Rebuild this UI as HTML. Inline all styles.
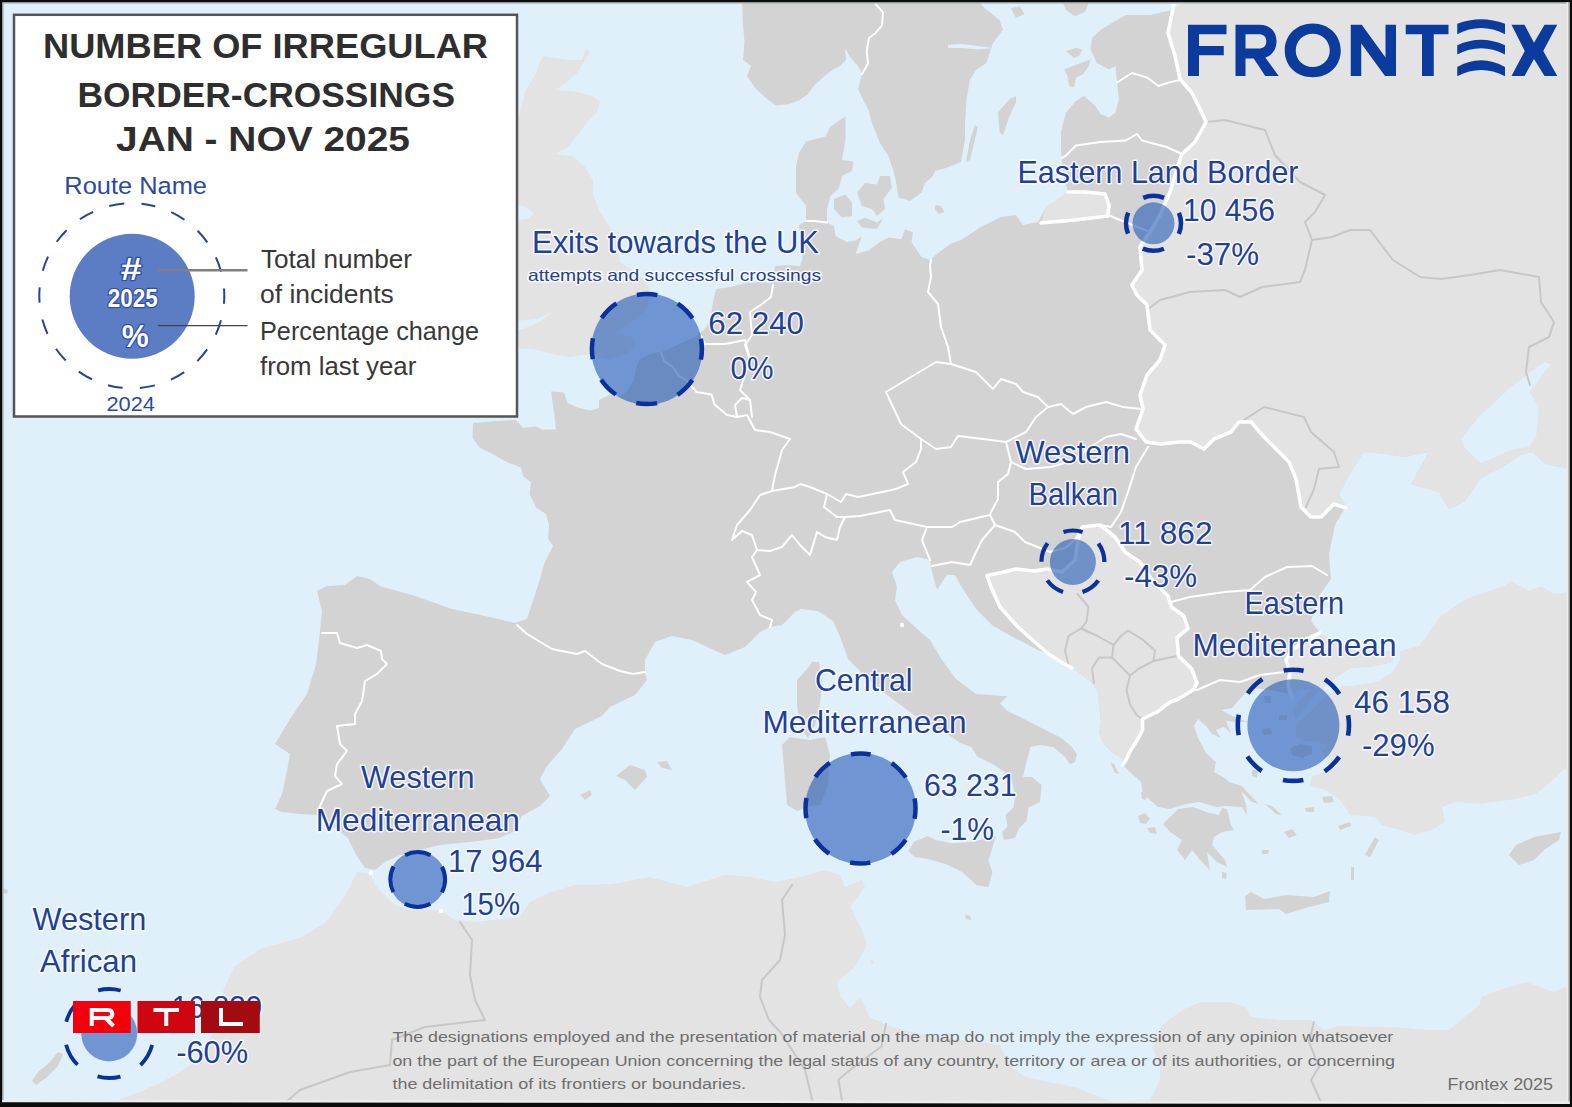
<!DOCTYPE html>
<html><head><meta charset="utf-8"><title>Frontex map</title>
<style>html,body{margin:0;padding:0;background:#e0f0fb;}body{width:1572px;height:1107px;position:relative;overflow:hidden;font-family:"Liberation Sans",sans-serif;}</style>
</head><body>
<svg width="1572" height="1107" viewBox="0 0 1572 1107" style="position:absolute;left:0;top:0"><defs><clipPath id="land"><path d="M275,809 L282,794 L287,771 L290,754 L275,744 L290,719 L307,694 L316,664 L320,631 L322,611 L317,591 L327,586 L345,585 L357,576 L370,579 L380,586 L415,596 L452,609 L485,616 L515,623 L527,619 L540,579 L544.5,563 L553,546 L548,538.5 L549,525.5 L546,514 L536,507.5 L529.5,494 L531,482.5 L523,476 L521,467.5 L504.5,461 L491,453 L480,448 L472.5,438 L473,423 L491,421.5 L516,420 L523,428 L536,426.5 L542.5,429.5 L556,429.5 L554,413 L551,391.5 L564,392.5 L567.5,403 L577.5,407.5 L590.5,410.5 L599,408 L599,400 L609,395 L620.5,396 L627.5,390.5 L634.5,379 L636,368 L640,359.5 L650,354 L664,351 L685,341.5 L696.5,336 L706,328 L711,315 L713,302 L716,289 L731,287 L745,283 L760,282 L773,283 L775,266 L787,265 L800,266 L802.5,258.5 L800,240 L799,225 L806,221 L806,206 L796,193 L796,166 L799,153 L806,141.5 L825.5,136.5 L830.5,126.5 L845.5,116.5 L845.5,140 L842,160 L853.5,161.5 L852,171 L842,176 L839,188 L830.5,196 L827,209 L827,222.5 L834,226 L835.5,236 L847,242 L855.5,240.5 L862,236 L855.5,254 L868.5,250.5 L880,242 L888.5,237.5 L901.5,239 L905,229 L913,232.5 L911.5,242 L918,252 L921.5,257 L928,259 L930,260.5 L935,255.5 L950,244 L961,240 L981,227 L1001,217 L1016,215 L1023,225 L1038,222 L1046,207 L1061,197 L1068,192 L1063,175 L1061,149 L1061,132 L1066,112.5 L1076,101 L1084,96 L1095.5,106 L1100.5,114 L1109,117.5 L1115.5,112.5 L1119,99 L1117,82.5 L1115.5,66 L1109,69.5 L1097,63 L1090.5,49.5 L1092,38 L1100.5,30 L1112,23 L1125.5,15 L1150,15 L1172,10 L1180,5 L1190,0 L1572,0 L1572,469 L1545,464 L1533,452 L1520,455 L1504,466 L1481,478 L1464,502 L1449,509 L1439,492 L1411,484 L1429,452 L1404,457 L1386,454 L1364,452 L1354,467 L1339,494 L1346,506 L1335,525 L1329,554 L1331,579 L1319,596 L1311,621 L1321,634 L1339,644 L1364,654 L1396,651 L1392,662 L1375,666 L1350,668 L1338,676 L1320,690 L1305,706 L1296,719 L1294,712 L1300,700 L1312,689 L1300,690 L1291,695 L1280,692 L1270,690 L1250,688 L1239,700 L1232,708 L1221,710 L1232,716 L1248,722 L1236,722 L1226,721 L1231,733 L1224,727 L1216,730 L1221,738 L1212,734 L1206,726 L1198,719 L1194,726 L1198,738 L1206,753 L1216,762 L1214,772 L1226,779 L1232,786 L1241,791 L1246,804 L1247,815 L1242,807 L1226,806 L1216,807 L1199,802 L1186,804 L1170,809 L1158,807 L1143,794 L1141,782 L1131,773 L1122.5,765 L1122.5,758.5 L1113.5,753.5 L1104.5,744.5 L1099,733.5 L1101,722.5 L1099,704.5 L1097.5,690 L1092,683 L1081,674 L1070.5,666.5 L1061,661 L1036,649 L1011,636 L993,626 L976,609 L961,586 L955,575 L947,575 L937,590 L932,572 L930,560 L917,557 L900,562 L892,572 L897,587 L895,600 L902,615 L915,627 L930,640 L942,660 L956,679 L976,694 L1003,696 L1007.5,696 L1000,703.5 L1007.5,711 L1023,718.5 L1041.5,728 L1060.5,737.5 L1072,747 L1077,754.5 L1075,762 L1070,764 L1064.5,756.5 L1053,747 L1040,745 L1030.5,747 L1026.5,762 L1023,777 L1032,777 L1041.5,785 L1040,802 L1028.5,807.5 L1026.5,821 L1019,828.5 L1015,838 L1004,840 L1002,832 L1007.5,826.5 L1005.5,815 L1013.5,807.5 L1015,796 L1011.5,779 L1004,771.5 L992.5,764 L977,756.5 L971.5,747 L960,743 L947,733.5 L926,724 L906,709 L886,694 L863,674 L848,659 L841,639 L833,621 L818,611 L801,609 L795,612 L782,625 L770,627 L760,632 L745,647 L725,655 L707,647 L692,640 L672,636 L655,642 L645,660 L645,672 L647,680 L635,695 L610,707 L602,716 L575,729 L562,749 L547,766 L540,779 L550,796 L540,806 L522,816 L515,831 L500,838 L470,842 L440,845 L420,850 L400,855 L385,862 L375,870 L365,868 L355,853 L348,838 L335,828 L320,815 L300,814 L282,812Z"/></clipPath></defs><rect width="1572" height="1107" fill="#e0f0fb"/><path d="M275,809 L282,794 L287,771 L290,754 L275,744 L290,719 L307,694 L316,664 L320,631 L322,611 L317,591 L327,586 L345,585 L357,576 L370,579 L380,586 L415,596 L452,609 L485,616 L515,623 L527,619 L540,579 L544.5,563 L553,546 L548,538.5 L549,525.5 L546,514 L536,507.5 L529.5,494 L531,482.5 L523,476 L521,467.5 L504.5,461 L491,453 L480,448 L472.5,438 L473,423 L491,421.5 L516,420 L523,428 L536,426.5 L542.5,429.5 L556,429.5 L554,413 L551,391.5 L564,392.5 L567.5,403 L577.5,407.5 L590.5,410.5 L599,408 L599,400 L609,395 L620.5,396 L627.5,390.5 L634.5,379 L636,368 L640,359.5 L650,354 L664,351 L685,341.5 L696.5,336 L706,328 L711,315 L713,302 L716,289 L731,287 L745,283 L760,282 L773,283 L775,266 L787,265 L800,266 L802.5,258.5 L800,240 L799,225 L806,221 L806,206 L796,193 L796,166 L799,153 L806,141.5 L825.5,136.5 L830.5,126.5 L845.5,116.5 L845.5,140 L842,160 L853.5,161.5 L852,171 L842,176 L839,188 L830.5,196 L827,209 L827,222.5 L834,226 L835.5,236 L847,242 L855.5,240.5 L862,236 L855.5,254 L868.5,250.5 L880,242 L888.5,237.5 L901.5,239 L905,229 L913,232.5 L911.5,242 L918,252 L921.5,257 L928,259 L930,260.5 L935,255.5 L950,244 L961,240 L981,227 L1001,217 L1016,215 L1023,225 L1038,222 L1046,207 L1061,197 L1068,192 L1063,175 L1061,149 L1061,132 L1066,112.5 L1076,101 L1084,96 L1095.5,106 L1100.5,114 L1109,117.5 L1115.5,112.5 L1119,99 L1117,82.5 L1115.5,66 L1109,69.5 L1097,63 L1090.5,49.5 L1092,38 L1100.5,30 L1112,23 L1125.5,15 L1150,15 L1172,10 L1180,5 L1190,0 L1572,0 L1572,469 L1545,464 L1533,452 L1520,455 L1504,466 L1481,478 L1464,502 L1449,509 L1439,492 L1411,484 L1429,452 L1404,457 L1386,454 L1364,452 L1354,467 L1339,494 L1346,506 L1335,525 L1329,554 L1331,579 L1319,596 L1311,621 L1321,634 L1339,644 L1364,654 L1396,651 L1392,662 L1375,666 L1350,668 L1338,676 L1320,690 L1305,706 L1296,719 L1294,712 L1300,700 L1312,689 L1300,690 L1291,695 L1280,692 L1270,690 L1250,688 L1239,700 L1232,708 L1221,710 L1232,716 L1248,722 L1236,722 L1226,721 L1231,733 L1224,727 L1216,730 L1221,738 L1212,734 L1206,726 L1198,719 L1194,726 L1198,738 L1206,753 L1216,762 L1214,772 L1226,779 L1232,786 L1241,791 L1246,804 L1247,815 L1242,807 L1226,806 L1216,807 L1199,802 L1186,804 L1170,809 L1158,807 L1143,794 L1141,782 L1131,773 L1122.5,765 L1122.5,758.5 L1113.5,753.5 L1104.5,744.5 L1099,733.5 L1101,722.5 L1099,704.5 L1097.5,690 L1092,683 L1081,674 L1070.5,666.5 L1061,661 L1036,649 L1011,636 L993,626 L976,609 L961,586 L955,575 L947,575 L937,590 L932,572 L930,560 L917,557 L900,562 L892,572 L897,587 L895,600 L902,615 L915,627 L930,640 L942,660 L956,679 L976,694 L1003,696 L1007.5,696 L1000,703.5 L1007.5,711 L1023,718.5 L1041.5,728 L1060.5,737.5 L1072,747 L1077,754.5 L1075,762 L1070,764 L1064.5,756.5 L1053,747 L1040,745 L1030.5,747 L1026.5,762 L1023,777 L1032,777 L1041.5,785 L1040,802 L1028.5,807.5 L1026.5,821 L1019,828.5 L1015,838 L1004,840 L1002,832 L1007.5,826.5 L1005.5,815 L1013.5,807.5 L1015,796 L1011.5,779 L1004,771.5 L992.5,764 L977,756.5 L971.5,747 L960,743 L947,733.5 L926,724 L906,709 L886,694 L863,674 L848,659 L841,639 L833,621 L818,611 L801,609 L795,612 L782,625 L770,627 L760,632 L745,647 L725,655 L707,647 L692,640 L672,636 L655,642 L645,660 L645,672 L647,680 L635,695 L610,707 L602,716 L575,729 L562,749 L547,766 L540,779 L550,796 L540,806 L522,816 L515,831 L500,838 L470,842 L440,845 L420,850 L400,855 L385,862 L375,870 L365,868 L355,853 L348,838 L335,828 L320,815 L300,814 L282,812Z" fill="#d3d3d3"/><path d="M742,0 L743,25 L744.5,42 L743,60 L751,66 L747,76 L755,88 L767,99 L776,105.5 L789,104 L799,100.5 L808,94 L814.5,85 L827,74 L834,69 L840,66 L846,60 L845,48 L850,57 L858,66 L862,74 L858,89 L864,102 L868.5,110 L872,123 L880,143 L888.5,156 L893.5,171 L896.5,184.5 L898.5,197.5 L910,201 L921.5,192.5 L925,183 L933,176 L935,171 L946,168 L961,162 L965,140 L965,125.5 L966.5,99 L970,79.5 L976.5,69.5 L986.5,63 L993,43 L1003,30 L999.5,20 L983,6.5 L978,0Z" fill="#d3d3d3"/><path d="M1163,824 L1178,809 L1193,807 L1206,812 L1219,815 L1222,808 L1227,809 L1231,825 L1234,830 L1222,832 L1214,837 L1212,845 L1225,860 L1227,867 L1217,862 L1207,852 L1210,870 L1200,860 L1192,850 L1185,860 L1177,850 L1182,840 L1170,832Z" fill="#d3d3d3"/><path d="M834,199 L845.5,194.5 L852,202.5 L852,216 L842,217.5 L834,209Z" fill="#d3d3d3"/><path d="M857,192.5 L865,183 L877,184.5 L880,176 L890,176 L892,187.5 L883.5,199 L885,209 L877,216 L872,209 L862,206Z" fill="#d3d3d3"/><path d="M857,221 L865,217.5 L877,222.5 L883.5,217.5 L877,229 L862,227.5Z" fill="#d3d3d3"/><path d="M935,205 L941,206 L944.5,212 L939,214 L935,210Z" fill="#d3d3d3"/><path d="M975,125 L978,127 L970,160 L966,162 L970,140Z" fill="#d3d3d3"/><path d="M1016,96 L1009.5,99 L998,112.5 L999.5,132 L1003,135.5 L1009.5,116 L1016,102.5Z" fill="#d3d3d3"/><path d="M1064,69.5 L1072.5,66 L1090.5,59.5 L1089,66 L1082.5,74.5 L1076,77.5 L1074,87.5 L1069,86 L1067.5,76Z" fill="#d3d3d3"/><path d="M1066,51 L1076,48 L1082.5,49.5 L1079,56 L1074,58Z" fill="#d3d3d3"/><path d="M1011,8 L1020,6.5 L1024.5,14 L1016,18Z" fill="#d3d3d3"/><path d="M1062.5,2 L1089,2 L1085,12 L1075,16.5 L1066,10Z" fill="#d3d3d3"/><path d="M797,680 L808,668 L812,662 L819,662 L822,682 L820,705 L815,725 L808,738 L800,728 L797,705Z" fill="#d3d3d3"/><path d="M782,745 L790,737 L810,740 L825,737 L830,755 L828,785 L820,805 L810,806 L797,811 L787,805 L785,780Z" fill="#d3d3d3"/><path d="M908,851 L914.5,841.5 L928,836 L935.5,840 L952.5,843.5 L973.5,841.5 L996,836 L992.5,847.5 L988.5,860.5 L992.5,872 L988.5,887 L977,885.5 L962,872 L947,864.5 L928,859 L914.5,857Z" fill="#d3d3d3"/><path d="M616,776 L630,765 L645,770 L647,777 L635,790 L625,780Z" fill="#d3d3d3"/><path d="M657,762 L667,761 L672,770 L662,768Z" fill="#d3d3d3"/><path d="M580,795 L590,790 L592,795 L585,800Z" fill="#d3d3d3"/><path d="M1245,896 L1251,892 L1264,899 L1286,895 L1314,897 L1330,891 L1329,902 L1309,907 L1286,914 L1279,909 L1246,910Z" fill="#d3d3d3"/><path d="M1365,855 L1375,837 L1379,840 L1370,857Z" fill="#d3d3d3"/><path d="M1351,867 L1354,867 L1354,880 L1351,880Z" fill="#d3d3d3"/><path d="M1509,855 L1516,845 L1534,837 L1561,832 L1559,840 L1544,850 L1534,860 L1519,865Z" fill="#d3d3d3"/><path d="M1199,781 L1206,774 L1219,776 L1229,782 L1242,786 L1249,794 L1259,804 L1252,802 L1242,792 L1229,791 L1216,786Z" fill="#d3d3d3"/><path d="M1138,816 L1145,813 L1150,819 L1146,824 L1140,823Z" fill="#d3d3d3"/><path d="M1141,792 L1146,793 L1146,800 L1142,799Z" fill="#d3d3d3"/><path d="M1147,828 L1155,827 L1157,834 L1150,833Z" fill="#d3d3d3"/><path d="M1110,762 L1114,764 L1119,774 L1115,773Z" fill="#d3d3d3"/><path d="M1222,872 L1227,873 L1226,879 L1222,878Z" fill="#d3d3d3"/><path d="M1265,804 L1272,806 L1282,815 L1276,814Z" fill="#d3d3d3"/><path d="M1284,832 L1292,829 L1297,835 L1289,838Z" fill="#d3d3d3"/><path d="M1262,850 L1269,850 L1268,854 L1262,854Z" fill="#d3d3d3"/><path d="M1322,797 L1332,796 L1334,802 L1324,803Z" fill="#d3d3d3"/><path d="M1305,808 L1314,807 L1314,812 L1306,812Z" fill="#d3d3d3"/><path d="M1338,826 L1350,822 L1351,826 L1340,830Z" fill="#d3d3d3"/><path d="M1290,748 L1300,744 L1312,746 L1312,754 L1302,758 L1292,755Z" fill="#d3d3d3"/><path d="M1279,716 L1287,715 L1287,720 L1279,720Z" fill="#d3d3d3"/><path d="M1262,729 L1271,728 L1272,734 L1263,735Z" fill="#d3d3d3"/><path d="M1264,696 L1271,696 L1271,703 L1265,703Z" fill="#d3d3d3"/><path d="M1252,770 L1258,770 L1257,778 L1252,776Z" fill="#d3d3d3"/><path d="M32,1081 L38,1072 L50,1062 L58,1052 L63,1054 L58,1066 L46,1078 L36,1085Z" fill="#d3d3d3"/><path d="M965,915 L970,916 L971,920 L966,919Z" fill="#d3d3d3"/><path d="M3,888 L8,890 L7,894 L3,893Z" fill="#d3d3d3"/><path d="M870,960 L874,961 L873,964 L870,963Z" fill="#e3e3e3"/><g clip-path="url(#land)"><path d="M1174,0 L1173,8 L1168,33 L1175,56 L1180,79 L1192,93 L1200,109 L1206,122 L1195,142 L1182,154 L1178,165 L1170,192 L1160,215 L1150,232 L1140,247 L1142,270 L1132,285 L1137,295 L1147,305 L1150,330 L1165,345 L1160,360 L1147,375 L1140,395 L1143,409 L1136,429 L1146,442 L1161,444 L1179,442 L1191,442 L1204,449 L1214,439 L1231,432 L1239,422 L1251,422 L1264,437 L1289,462 L1296,479 L1301,507 L1311,517 L1321,517 L1334,504 L1346,508 L1360,520 L1572,520 L1572,-5 L1174,-5Z" fill="#e3e3e3"/><path d="M1072,668 L1063,663 L1048.5,654 L1034,641.5 L1016,625 L1000,607 L991,587 L987,575.5 L1001.5,572.5 L1016,569 L1034,571 L1047,569 L1062,572 L1075,560 L1078,540 L1082,527 L1100,525 L1115,537 L1125,552 L1140,562 L1152,580 L1168,596 L1171.5,607 L1184,616 L1188,628.5 L1177,637.5 L1178.5,656 L1191.5,668.5 L1197,683 L1193,690 L1178.5,699 L1169.5,702.5 L1157,712 L1142.5,719 L1142.5,730 L1137,740.5 L1130,751.5 L1126,760 L1122.5,765 L1100,770 L1075,720 L1060,680Z" fill="#e3e3e3"/><path d="M1320,633 L1305,640 L1292,650 L1286,660 L1290,672 L1288,685 L1292,698 L1290,730 L1420,730 L1420,620 L1330,620Z" fill="#e3e3e3"/><path d="M1041,223 L1046,207 L1061,197 L1068,192 L1085,192 L1105,194 L1109,205 L1108,216 L1075,220Z" fill="#e3e3e3"/></g><path d="M1461,439 L1479,417 L1511,387 L1544,362 L1551,364 L1529,392 L1539,407 L1536,437 L1529,447 L1514,449 L1481,463 L1465,448Z" fill="#e0f0fb"/><path d="M948,45 L962,44 L978,46 L993,48 L978,49.5 L962,48 L948,48Z" fill="#e0f0fb"/><path d="M540,62 L543,56 L568,60 L582,60 L586,48 L590,52 L584,62 L578,72 L563,85 L555,90 L573,91 L593,96 L600,102 L597,112 L585,125 L578,135 L568,147 L555,154 L573,156 L585,167 L593,180 L593,195 L600,212 L610,227 L618,245 L620,262 L632,270 L645,280 L651,292 L649,302 L644.5,312 L636,319 L615,333 L633,337 L636,343 L634.5,348.5 L626,354 L616.5,357 L608,359.5 L597,357 L591,354 L580,355.5 L570,357 L552,354 L538,350 L524,348.5 L518,348.5 L510,350 L510,330 L524,329 L538,323 L552,312 L538,319 L521,320.5 L510,322 L510,130 L520,112 L525,92 L535,75Z" fill="#e3e3e3"/><path d="M516,204 L526,207 L534,214 L527,219 L516,220Z" fill="#e0f0fb"/><path d="M1400,651 L1419,646 L1441,616 L1466,599 L1504,586 L1511,581 L1529,591 L1541,586 L1554,594 L1572,591 L1572,770 L1564,769 L1554,779 L1536,794 L1516,799 L1479,804 L1455,802 L1442,807 L1445,822 L1432,830 L1415,835 L1400,830 L1382,825 L1375,817 L1350,815 L1340,800 L1338,798 L1325,790 L1310,786 L1312,776 L1328,771 L1338,766 L1330,760 L1322,752 L1326,746 L1318,742 L1305,741 L1295,737 L1296,730 L1299,722 L1310,712 L1325,697 L1342,686 L1354,686 L1379,681 L1392,672 L1400,660Z" fill="#e3e3e3"/><path d="M60,1107 L75,1102 L112,1102 L137,1093 L160,1083 L182,1071 L200,1056 L215,1030 L220,1001 L225,986 L235,966 L262,948 L300,938 L325,923 L345,896 L355,876 L357,872 L370,873 L375,885 L395,905 L412,910 L440,910 L455,920 L475,922 L520,917 L530,902 L550,892 L575,885 L612,884 L650,877 L687,887 L725,875 L750,877 L775,882 L800,877 L825,870 L840,875 L845,887 L862,880 L865,887 L850,907 L862,930 L867,945 L855,967 L837,982 L840,995 L850,1008 L860,997 L870,1017 L887,1025 L912,1032 L937,1037 L975,1042 L1000,1045 L1010,1065 L1025,1077 L1050,1082 L1075,1087 L1100,1097 L1112,1102 L1150,1100 L1160,1080 L1160,1065 L1152,1047 L1162,1025 L1182,1010 L1200,1002 L1229,1002 L1246,1007 L1251,1017 L1279,1020 L1311,1020 L1324,1030 L1339,1026 L1391,1027 L1429,1030 L1449,1030 L1461,1020 L1479,1005 L1481,997 L1499,990 L1526,982 L1554,992 L1569,985 L1572,985 L1572,1107Z" fill="#e3e3e3"/><g clip-path="url(#land)"><path d="M1147,310 L1160,300 L1190,292 L1225,290 L1240,297 L1262,287 L1300,282 L1305,270 L1312,240 L1332,237 L1350,230 L1370,230 L1393,260 L1420,277 L1441,279 L1470,275 L1500,270 L1539,277 L1541,302 L1554,322 L1549,337 L1529,347 L1526,372 L1530,385" fill="none" stroke="#c7c7c7" stroke-width="2" stroke-linejoin="round" stroke-linecap="round"/><path d="M1206,122 L1225,120 L1245,125 L1265,130 L1275,155 L1300,182 L1325,195 L1315,212 L1305,222 L1312,240" fill="none" stroke="#c7c7c7" stroke-width="2" stroke-linejoin="round" stroke-linecap="round"/><path d="M1244,420 L1264,407 L1304,417 L1311,432 L1334,452 L1339,467 L1319,469 L1314,489 L1306,507" fill="none" stroke="#c7c7c7" stroke-width="2" stroke-linejoin="round" stroke-linecap="round"/><path d="M1077.5,594 L1088.5,607 L1086.5,621.5 L1081,628.5 L1068.5,636 L1065,650.5 L1068.5,665" fill="none" stroke="#c7c7c7" stroke-width="2" stroke-linejoin="round" stroke-linecap="round"/><path d="M1081,628.5 L1097.5,636 L1113.5,645 L1121,636 L1128,630.5 L1142.5,639.5 L1155,650.5 L1153.5,661 L1139,668.5 L1130,675.5 L1121,666.5 L1112,657.5 L1113.5,645" fill="none" stroke="#c7c7c7" stroke-width="2" stroke-linejoin="round" stroke-linecap="round"/><path d="M1112,657.5 L1099,657.5 L1092,668.5 L1094,683" fill="none" stroke="#c7c7c7" stroke-width="2" stroke-linejoin="round" stroke-linecap="round"/><path d="M1130,675.5 L1126.5,690 L1130,704.5 L1137,715.5 L1142.5,719" fill="none" stroke="#c7c7c7" stroke-width="2" stroke-linejoin="round" stroke-linecap="round"/><path d="M1153.5,661 L1169.5,657.5 L1178.5,656" fill="none" stroke="#c7c7c7" stroke-width="2" stroke-linejoin="round" stroke-linecap="round"/></g><path d="M460,922 L472,940 L470,975 L475,1000 L485,1020 L425,1027 L392,1040 L390,1065 L350,1072 L300,1090 L280,1107" fill="none" stroke="#c7c7c7" stroke-width="2" stroke-linejoin="round" stroke-linecap="round"/><path d="M792,885 L782,900 L785,935 L780,960 L762,980 L760,997 L769,1020 L781,1033 L805,1070 L814,1107" fill="none" stroke="#c7c7c7" stroke-width="2" stroke-linejoin="round" stroke-linecap="round"/><path d="M886,1024 L881.5,1046.5 L855,1066 L838.5,1079.5 L843,1107" fill="none" stroke="#c7c7c7" stroke-width="2" stroke-linejoin="round" stroke-linecap="round"/><path d="M1314,1022 L1309,1042 L1319,1067 L1311,1080 L1321,1102" fill="none" stroke="#c7c7c7" stroke-width="2" stroke-linejoin="round" stroke-linecap="round"/><path d="M322,633 L337,633 L340,643 L357,648 L367,645 L381,651 L382,659 L387,664 L377,674 L365,681 L362,701 L355,714 L355,724 L337,726 L340,744 L347,751 L337,764 L335,776 L342,784 L327,791 L320,806 L318,814" fill="none" stroke="#ffffff" stroke-width="2.0" stroke-linejoin="round" stroke-linecap="round"/><path d="M517,625 L527,634 L552,649 L577,654 L585,651 L602,664 L620,671 L633,674 L645,672" fill="none" stroke="#ffffff" stroke-width="2.0" stroke-linejoin="round" stroke-linecap="round"/><path d="M770,627 L772,620 L760,615 L752,600 L756,592 L747,582 L760,575 L752,557 L757,550" fill="none" stroke="#ffffff" stroke-width="2.0" stroke-linejoin="round" stroke-linecap="round"/><path d="M757,550 L752,535 L742,531 L732,540 L737,525 L750,510 L760,495 L772,491 L795,487 L800,484 L810,487 L827,494 L824,507 L837,517 L845,517 L840,527 L837,540 L825,537 L817,532 L810,555 L800,545 L792,535 L782,547 L770,551 L757,550" fill="none" stroke="#ffffff" stroke-width="2.0" stroke-linejoin="round" stroke-linecap="round"/><path d="M772,491 L775,475 L782,450 L790,439 L770,432 L755,430 L747,415 L737,417 L727,415 L714.5,404.5 L711.5,394.5 L696.5,392 L686.5,380.5 L678,375 L672.5,366.5 L664,361 L661,352.5" fill="none" stroke="#ffffff" stroke-width="2.0" stroke-linejoin="round" stroke-linecap="round"/><path d="M737,417 L735,405 L742,398 L750,400 L752,417" fill="none" stroke="#ffffff" stroke-width="2.0" stroke-linejoin="round" stroke-linecap="round"/><path d="M750,400 L740,390 L750,360 L745,345 L752,335 L750,312 L762,304 L771,297 L773,285" fill="none" stroke="#ffffff" stroke-width="2.0" stroke-linejoin="round" stroke-linecap="round"/><path d="M701,336 L705,344 L725,344 L745,340 L750,360" fill="none" stroke="#ffffff" stroke-width="2.0" stroke-linejoin="round" stroke-linecap="round"/><path d="M806,221 L815,221 L827,222.5" fill="none" stroke="#ffffff" stroke-width="2.0" stroke-linejoin="round" stroke-linecap="round"/><path d="M931,260 L930,265 L931,277 L928,292 L938,304 L941,327 L948,347 L951,364" fill="none" stroke="#ffffff" stroke-width="2.0" stroke-linejoin="round" stroke-linecap="round"/><path d="M951,364 L936,362 L911,377 L886,392 L893,407 L901,424 L921,439 L936,449 L951,447 L958,436 L983,439 L1006,442 L1026,432 L1036,417 L1048,407 L1038,397 L1023,392 L1016,384 L1001,379 L993,389 L986,382 L976,372 L951,364" fill="none" stroke="#ffffff" stroke-width="2.0" stroke-linejoin="round" stroke-linecap="round"/><path d="M921,439 L921,449 L916,462 L903,472 L908,484 L896,489 L873,494 L858,497 L846,494 L841,502 L827,494" fill="none" stroke="#ffffff" stroke-width="2.0" stroke-linejoin="round" stroke-linecap="round"/><path d="M1048,407 L1061,404 L1073,414 L1086,407 L1106,402 L1123,407 L1141,409" fill="none" stroke="#ffffff" stroke-width="2.0" stroke-linejoin="round" stroke-linecap="round"/><path d="M1006,442 L1011,462 L1026,469 L1051,467 L1075,460 L1090,447 L1106,437 L1121,434 L1136,439" fill="none" stroke="#ffffff" stroke-width="2.0" stroke-linejoin="round" stroke-linecap="round"/><path d="M1011,462 L1008,474 L998,482 L998,499 L991,512 L990,515 L995,525" fill="none" stroke="#ffffff" stroke-width="2.0" stroke-linejoin="round" stroke-linecap="round"/><path d="M845,517 L860,516 L890,510 L895,520 L927,527 L952,527 L960,522 L990,515" fill="none" stroke="#ffffff" stroke-width="2.0" stroke-linejoin="round" stroke-linecap="round"/><path d="M927,527 L922,540 L930,560" fill="none" stroke="#ffffff" stroke-width="2.0" stroke-linejoin="round" stroke-linecap="round"/><path d="M932,566 L952,562 L970,565 L977,550 L982,540 L995,525" fill="none" stroke="#ffffff" stroke-width="2.0" stroke-linejoin="round" stroke-linecap="round"/><path d="M995,525 L1015,532 L1025,542 L1050,552 L1065,548 L1075,540 L1082,527" fill="none" stroke="#ffffff" stroke-width="2.0" stroke-linejoin="round" stroke-linecap="round"/><path d="M1148,447 L1136,467 L1128,492 L1121,512 L1111,527 L1100,525" fill="none" stroke="#ffffff" stroke-width="2.0" stroke-linejoin="round" stroke-linecap="round"/><path d="M1171,602 L1190,597 L1225,592 L1250,590 L1265,577 L1287,567 L1312,566 L1327,575" fill="none" stroke="#ffffff" stroke-width="2.0" stroke-linejoin="round" stroke-linecap="round"/><path d="M1193,690 L1197,690 L1220,680 L1240,682 L1260,675 L1285,672 L1296,668" fill="none" stroke="#ffffff" stroke-width="2.0" stroke-linejoin="round" stroke-linecap="round"/><path d="M1062,158 L1066,155.5 L1076,145.5 L1100.5,142 L1125.5,140.5 L1137,134 L1142,140.5 L1166.5,147 L1182,154" fill="none" stroke="#ffffff" stroke-width="2.0" stroke-linejoin="round" stroke-linecap="round"/><path d="M1117,82.5 L1132,73 L1147,77.5 L1158.5,86 L1168.5,82.5 L1180,80" fill="none" stroke="#ffffff" stroke-width="2.0" stroke-linejoin="round" stroke-linecap="round"/><path d="M1108,215 L1125,222 L1140,228 L1150,232" fill="none" stroke="#ffffff" stroke-width="2.0" stroke-linejoin="round" stroke-linecap="round"/><path d="M862,74 L868,63.6 L866.7,51 L869,38 L875.6,33 L882,25.4 L883,12.7 L875.6,3.8 L875,0" fill="none" stroke="#ffffff" stroke-width="2.0" stroke-linejoin="round" stroke-linecap="round"/><path d="M1174,0 L1173,8 L1168,33 L1175,56 L1180,79 L1192,93 L1200,109 L1206,122 L1195,142 L1182,154 L1178,165 L1170,192 L1160,215 L1150,232 L1140,247 L1142,270 L1132,285 L1137,295 L1147,305 L1150,330 L1165,345 L1160,360 L1147,375 L1140,395 L1143,409 L1136,429 L1146,442 L1161,444 L1179,442 L1191,442 L1204,449 L1214,439 L1231,432 L1239,422 L1251,422 L1264,437 L1289,462 L1296,479 L1301,507 L1311,517 L1321,517 L1334,504 L1346,508" fill="none" stroke="#ffffff" stroke-width="3.6" stroke-linejoin="round" stroke-linecap="round"/><path d="M1072,668 L1063,663 L1048.5,654 L1034,641.5 L1016,625 L1000,607 L991,587 L987,575.5 L1001.5,572.5 L1016,569 L1034,571 L1047,569 L1062,572 L1075,560 L1078,540 L1082,527 L1100,525 L1115,537 L1125,552 L1140,562 L1152,580 L1168,596 L1171.5,607 L1184,616 L1188,628.5 L1177,637.5 L1178.5,656 L1191.5,668.5 L1197,683 L1193,690 L1178.5,699 L1169.5,702.5 L1157,712 L1142.5,719 L1142.5,730 L1137,740.5 L1130,751.5 L1126,760 L1122.5,765" fill="none" stroke="#ffffff" stroke-width="3.6" stroke-linejoin="round" stroke-linecap="round"/><path d="M1320,633 L1305,640 L1292,650 L1286,660 L1290,672 L1288,685 L1292,698" fill="none" stroke="#ffffff" stroke-width="3.6" stroke-linejoin="round" stroke-linecap="round"/><path d="M1041,223 L1075,220 L1108,216 L1109,205 L1105,194 L1085,192 L1068,192" fill="none" stroke="#ffffff" stroke-width="3.6" stroke-linejoin="round" stroke-linecap="round"/><circle cx="371" cy="873" r="2.2" fill="#fff"/><circle cx="441" cy="911" r="2.2" fill="#fff"/><circle cx="902" cy="625" r="2.2" fill="#fff"/><circle cx="646.9" cy="349.1" r="55.6" fill="#2a60b8" fill-opacity="0.62"/><circle cx="646.9" cy="349.1" r="55" fill="none" stroke="#0b329b" stroke-width="4.5" stroke-dasharray="20.99 22.20" stroke-dashoffset="10.50" transform="rotate(-90 646.9 349.1)"/><circle cx="1153.5" cy="223.3" r="21" fill="#2a60b8" fill-opacity="0.62"/><circle cx="1153.5" cy="223.3" r="27.5" fill="none" stroke="#0b329b" stroke-width="4.5" stroke-dasharray="21.60 21.60" stroke-dashoffset="10.80" transform="rotate(-90 1153.5 223.3)"/><circle cx="1072.9" cy="562" r="23" fill="#2a60b8" fill-opacity="0.62"/><circle cx="1072.9" cy="562" r="31.5" fill="none" stroke="#0b329b" stroke-width="4.2" stroke-dasharray="19.79 19.79" stroke-dashoffset="9.90" transform="rotate(-90 1072.9 562)"/><circle cx="1293.4" cy="725.3" r="46" fill="#2a60b8" fill-opacity="0.62"/><circle cx="1293.4" cy="725.3" r="55.6" fill="none" stroke="#0b329b" stroke-width="4.6" stroke-dasharray="20.52 23.14" stroke-dashoffset="10.26" transform="rotate(-90 1293.4 725.3)"/><circle cx="860.5" cy="808.5" r="55.5" fill="#2a60b8" fill-opacity="0.62"/><circle cx="860.5" cy="808.5" r="55" fill="none" stroke="#0b329b" stroke-width="4.5" stroke-dasharray="20.30 22.89" stroke-dashoffset="10.15" transform="rotate(-90 860.5 808.5)"/><circle cx="417.7" cy="879.5" r="28.2" fill="#2a60b8" fill-opacity="0.62"/><circle cx="417.7" cy="879.5" r="27.4" fill="none" stroke="#0b329b" stroke-width="4" stroke-dasharray="26.68 16.36" stroke-dashoffset="13.34" transform="rotate(-90 417.7 879.5)"/><circle cx="109.2" cy="1033.5" r="28" fill="#2a60b8" fill-opacity="0.62"/><circle cx="109.2" cy="1033.5" r="44.5" fill="none" stroke="#0b329b" stroke-width="3.8" stroke-dasharray="23.30 23.30" stroke-dashoffset="11.65" transform="rotate(-90 109.2 1033.5)"/><text x="532" y="252.6" textLength="287" lengthAdjust="spacingAndGlyphs" style="font-family:'Liberation Sans',sans-serif;font-size:32px;font-weight:normal;fill:#21409a;stroke:#fff;stroke-width:3px;stroke-linejoin:round;paint-order:stroke fill;stroke-opacity:.85;">Exits towards the UK</text><text x="528" y="281.1" textLength="293" lengthAdjust="spacingAndGlyphs" style="font-family:'Liberation Sans',sans-serif;font-size:16.5px;font-weight:normal;fill:#21409a;stroke:#fff;stroke-width:3px;stroke-linejoin:round;paint-order:stroke fill;stroke-opacity:.85;">attempts and successful crossings</text><text x="708.3" y="334.3" textLength="95.70000000000005" lengthAdjust="spacingAndGlyphs" style="font-family:'Liberation Sans',sans-serif;font-size:32px;font-weight:normal;fill:#21409a;stroke:#fff;stroke-width:3px;stroke-linejoin:round;paint-order:stroke fill;stroke-opacity:.85;">62 240</text><text x="730.5" y="378.8" textLength="43.0" lengthAdjust="spacingAndGlyphs" style="font-family:'Liberation Sans',sans-serif;font-size:32px;font-weight:normal;fill:#21409a;stroke:#fff;stroke-width:3px;stroke-linejoin:round;paint-order:stroke fill;stroke-opacity:.85;">0%</text><text x="1017.5" y="182.7" textLength="281.0" lengthAdjust="spacingAndGlyphs" style="font-family:'Liberation Sans',sans-serif;font-size:32px;font-weight:normal;fill:#21409a;stroke:#fff;stroke-width:3px;stroke-linejoin:round;paint-order:stroke fill;stroke-opacity:.85;">Eastern Land Border</text><text x="1183" y="220.6" textLength="92" lengthAdjust="spacingAndGlyphs" style="font-family:'Liberation Sans',sans-serif;font-size:32px;font-weight:normal;fill:#21409a;stroke:#fff;stroke-width:3px;stroke-linejoin:round;paint-order:stroke fill;stroke-opacity:.85;">10 456</text><text x="1186" y="265.2" textLength="73" lengthAdjust="spacingAndGlyphs" style="font-family:'Liberation Sans',sans-serif;font-size:32px;font-weight:normal;fill:#21409a;stroke:#fff;stroke-width:3px;stroke-linejoin:round;paint-order:stroke fill;stroke-opacity:.85;">-37%</text><text x="1015.5" y="462.9" textLength="114.5" lengthAdjust="spacingAndGlyphs" style="font-family:'Liberation Sans',sans-serif;font-size:32px;font-weight:normal;fill:#21409a;stroke:#fff;stroke-width:3px;stroke-linejoin:round;paint-order:stroke fill;stroke-opacity:.85;">Western</text><text x="1028.5" y="504.9" textLength="89.5" lengthAdjust="spacingAndGlyphs" style="font-family:'Liberation Sans',sans-serif;font-size:32px;font-weight:normal;fill:#21409a;stroke:#fff;stroke-width:3px;stroke-linejoin:round;paint-order:stroke fill;stroke-opacity:.85;">Balkan</text><text x="1118" y="544.4" textLength="94.5" lengthAdjust="spacingAndGlyphs" style="font-family:'Liberation Sans',sans-serif;font-size:32px;font-weight:normal;fill:#21409a;stroke:#fff;stroke-width:3px;stroke-linejoin:round;paint-order:stroke fill;stroke-opacity:.85;">11 862</text><text x="1124" y="587.3" textLength="73" lengthAdjust="spacingAndGlyphs" style="font-family:'Liberation Sans',sans-serif;font-size:32px;font-weight:normal;fill:#21409a;stroke:#fff;stroke-width:3px;stroke-linejoin:round;paint-order:stroke fill;stroke-opacity:.85;">-43%</text><text x="1244.5" y="613.7" textLength="99.5" lengthAdjust="spacingAndGlyphs" style="font-family:'Liberation Sans',sans-serif;font-size:32px;font-weight:normal;fill:#21409a;stroke:#fff;stroke-width:3px;stroke-linejoin:round;paint-order:stroke fill;stroke-opacity:.85;">Eastern</text><text x="1192.5" y="656.1" textLength="204.0" lengthAdjust="spacingAndGlyphs" style="font-family:'Liberation Sans',sans-serif;font-size:32px;font-weight:normal;fill:#21409a;stroke:#fff;stroke-width:3px;stroke-linejoin:round;paint-order:stroke fill;stroke-opacity:.85;">Mediterranean</text><text x="1354" y="712.5" textLength="96" lengthAdjust="spacingAndGlyphs" style="font-family:'Liberation Sans',sans-serif;font-size:32px;font-weight:normal;fill:#21409a;stroke:#fff;stroke-width:3px;stroke-linejoin:round;paint-order:stroke fill;stroke-opacity:.85;">46 158</text><text x="1362" y="756.3" textLength="72.5" lengthAdjust="spacingAndGlyphs" style="font-family:'Liberation Sans',sans-serif;font-size:32px;font-weight:normal;fill:#21409a;stroke:#fff;stroke-width:3px;stroke-linejoin:round;paint-order:stroke fill;stroke-opacity:.85;">-29%</text><text x="815" y="690.8" textLength="97.5" lengthAdjust="spacingAndGlyphs" style="font-family:'Liberation Sans',sans-serif;font-size:32px;font-weight:normal;fill:#21409a;stroke:#fff;stroke-width:3px;stroke-linejoin:round;paint-order:stroke fill;stroke-opacity:.85;">Central</text><text x="762.5" y="733.3" textLength="204.0" lengthAdjust="spacingAndGlyphs" style="font-family:'Liberation Sans',sans-serif;font-size:32px;font-weight:normal;fill:#21409a;stroke:#fff;stroke-width:3px;stroke-linejoin:round;paint-order:stroke fill;stroke-opacity:.85;">Mediterranean</text><text x="924" y="796.1" textLength="92.5" lengthAdjust="spacingAndGlyphs" style="font-family:'Liberation Sans',sans-serif;font-size:32px;font-weight:normal;fill:#21409a;stroke:#fff;stroke-width:3px;stroke-linejoin:round;paint-order:stroke fill;stroke-opacity:.85;">63 231</text><text x="940.5" y="839.8" textLength="53.5" lengthAdjust="spacingAndGlyphs" style="font-family:'Liberation Sans',sans-serif;font-size:32px;font-weight:normal;fill:#21409a;stroke:#fff;stroke-width:3px;stroke-linejoin:round;paint-order:stroke fill;stroke-opacity:.85;">-1%</text><text x="361" y="788" textLength="113.5" lengthAdjust="spacingAndGlyphs" style="font-family:'Liberation Sans',sans-serif;font-size:32px;font-weight:normal;fill:#21409a;stroke:#fff;stroke-width:3px;stroke-linejoin:round;paint-order:stroke fill;stroke-opacity:.85;">Western</text><text x="315.7" y="831" textLength="204.3" lengthAdjust="spacingAndGlyphs" style="font-family:'Liberation Sans',sans-serif;font-size:32px;font-weight:normal;fill:#21409a;stroke:#fff;stroke-width:3px;stroke-linejoin:round;paint-order:stroke fill;stroke-opacity:.85;">Mediterranean</text><text x="448" y="872.4" textLength="94.29999999999995" lengthAdjust="spacingAndGlyphs" style="font-family:'Liberation Sans',sans-serif;font-size:32px;font-weight:normal;fill:#21409a;stroke:#fff;stroke-width:3px;stroke-linejoin:round;paint-order:stroke fill;stroke-opacity:.85;">17 964</text><text x="461.3" y="915.4" textLength="58.69999999999999" lengthAdjust="spacingAndGlyphs" style="font-family:'Liberation Sans',sans-serif;font-size:32px;font-weight:normal;fill:#21409a;stroke:#fff;stroke-width:3px;stroke-linejoin:round;paint-order:stroke fill;stroke-opacity:.85;">15%</text><text x="32.5" y="930.1" textLength="113.69999999999999" lengthAdjust="spacingAndGlyphs" style="font-family:'Liberation Sans',sans-serif;font-size:32px;font-weight:normal;fill:#21409a;stroke:#fff;stroke-width:3px;stroke-linejoin:round;paint-order:stroke fill;stroke-opacity:.85;">Western</text><text x="40" y="971.9" textLength="97" lengthAdjust="spacingAndGlyphs" style="font-family:'Liberation Sans',sans-serif;font-size:32px;font-weight:normal;fill:#21409a;stroke:#fff;stroke-width:3px;stroke-linejoin:round;paint-order:stroke fill;stroke-opacity:.85;">African</text><text x="171.5" y="1018" textLength="90.80000000000001" lengthAdjust="spacingAndGlyphs" style="font-family:'Liberation Sans',sans-serif;font-size:32px;font-weight:normal;fill:#21409a;stroke:#fff;stroke-width:3px;stroke-linejoin:round;paint-order:stroke fill;stroke-opacity:.85;">16 839</text><text x="176.2" y="1063" textLength="71.9" lengthAdjust="spacingAndGlyphs" style="font-family:'Liberation Sans',sans-serif;font-size:32px;font-weight:normal;fill:#21409a;stroke:#fff;stroke-width:3px;stroke-linejoin:round;paint-order:stroke fill;stroke-opacity:.85;">-60%</text><text x="392.4" y="1042.3" textLength="1000.9" lengthAdjust="spacingAndGlyphs" style="font-family:'Liberation Sans',sans-serif;font-size:15.5px;font-weight:normal;fill:#6e6e6e;">The designations employed and the presentation of material on the map do not imply the expression of any opinion whatsoever</text><text x="392.4" y="1065.5" textLength="1002.6" lengthAdjust="spacingAndGlyphs" style="font-family:'Liberation Sans',sans-serif;font-size:15.5px;font-weight:normal;fill:#6e6e6e;">on the part of the European Union concerning the legal status of any country, territory or area or of its authorities, or concerning</text><text x="392.4" y="1088.6" textLength="353.6" lengthAdjust="spacingAndGlyphs" style="font-family:'Liberation Sans',sans-serif;font-size:15.5px;font-weight:normal;fill:#6e6e6e;">the delimitation of its frontiers or boundaries.</text><text x="1447.5" y="1089.5" textLength="105.5" lengthAdjust="spacingAndGlyphs" style="font-family:'Liberation Sans',sans-serif;font-size:17px;font-weight:normal;fill:#6e6e6e;">Frontex 2025</text><rect x="14" y="14.8" width="503" height="401.7" fill="#fff" stroke="#555" stroke-width="2.5"/><text x="43" y="58.4" textLength="445" lengthAdjust="spacingAndGlyphs" style="font-family:'Liberation Sans',sans-serif;font-size:35px;font-weight:bold;fill:#2e2e2e;">NUMBER OF IRREGULAR</text><text x="77.5" y="106.9" textLength="377.5" lengthAdjust="spacingAndGlyphs" style="font-family:'Liberation Sans',sans-serif;font-size:35px;font-weight:bold;fill:#2e2e2e;">BORDER-CROSSINGS</text><text x="116" y="151" textLength="294" lengthAdjust="spacingAndGlyphs" style="font-family:'Liberation Sans',sans-serif;font-size:35px;font-weight:bold;fill:#2e2e2e;">JAN - NOV 2025</text><text x="64.3" y="193.8" textLength="142.7" lengthAdjust="spacingAndGlyphs" style="font-family:'Liberation Sans',sans-serif;font-size:24.5px;font-weight:normal;fill:#2a4aa5;">Route Name</text><circle cx="132.2" cy="296.2" r="62.5" fill="#5c7dc4"/><circle cx="131.8" cy="295.8" r="92.5" fill="none" stroke="#26439a" stroke-width="2" stroke-dasharray="15.18 17.11" stroke-dashoffset="7.59" transform="rotate(-80 131.8 295.8)"/><text x="120.80000000000001" y="280" textLength="21" lengthAdjust="spacingAndGlyphs" style="font-family:'Liberation Sans',sans-serif;font-size:31px;font-weight:bold;fill:#fff;stroke:#2f50aa;stroke-width:2.6px;stroke-linejoin:round;paint-order:stroke fill;">#</text><text x="107.69999999999999" y="307" textLength="50" lengthAdjust="spacingAndGlyphs" style="font-family:'Liberation Sans',sans-serif;font-size:25px;font-weight:bold;fill:#fff;stroke:#2f50aa;stroke-width:2.6px;stroke-linejoin:round;paint-order:stroke fill;">2025</text><text x="121.69999999999999" y="347" textLength="27" lengthAdjust="spacingAndGlyphs" style="font-family:'Liberation Sans',sans-serif;font-size:32px;font-weight:bold;fill:#fff;stroke:#2f50aa;stroke-width:2.6px;stroke-linejoin:round;paint-order:stroke fill;">%</text><path d="M158,270.2 H247.5" stroke="#808080" stroke-width="2.6"/><path d="M158,325.6 H247.5" stroke="#444" stroke-width="1.2"/><text x="261" y="267.6" textLength="151" lengthAdjust="spacingAndGlyphs" style="font-family:'Liberation Sans',sans-serif;font-size:25px;font-weight:normal;fill:#383838;">Total number</text><text x="260" y="302.7" textLength="133.7" lengthAdjust="spacingAndGlyphs" style="font-family:'Liberation Sans',sans-serif;font-size:25px;font-weight:normal;fill:#383838;">of incidents</text><text x="260" y="340.3" textLength="219" lengthAdjust="spacingAndGlyphs" style="font-family:'Liberation Sans',sans-serif;font-size:25px;font-weight:normal;fill:#383838;">Percentage change</text><text x="260" y="374.5" textLength="156.3" lengthAdjust="spacingAndGlyphs" style="font-family:'Liberation Sans',sans-serif;font-size:25px;font-weight:normal;fill:#383838;">from last year</text><text x="106.5" y="410.5" textLength="48.5" lengthAdjust="spacingAndGlyphs" style="font-family:'Liberation Sans',sans-serif;font-size:21px;font-weight:normal;fill:#2a4aa5;">2024</text><g transform="translate(1179,1.1) scale(0.25)" fill="#0c3b9e"><path d="M36,95H190V133H80V180H179V217H80V300H36Z"/><path fill-rule="evenodd" d="M226,95H322C365,95 390,123 390,161C390,194 373,217 345,226L399,300H345L299,230H266V300H226Z M266,133V190H318C338,190 349,180 349,161C349,143 338,133 318,133Z"/><path fill-rule="evenodd" d="M535,90C599,90 647,135 647,198C647,261 599,305 535,305C471,305 423,261 423,198C423,135 471,90 535,90Z M535,131C497,131 467,160 467,198C467,236 497,264 535,264C573,264 603,236 603,198C603,160 573,131 535,131Z"/><path d="M687,95H731L826,226V95H868V300H824L729,170V300H687Z"/><path d="M907,95H1078V133H1019V300H972V133H907Z"/><path d="M1113,91 Q1208,54 1304,91 L1304,132.5 Q1208,82.5 1113,132.5Z"/><path d="M1113,176.5 Q1208,132.5 1304,176.5 L1304,213.5 Q1208,163.5 1113,213.5Z"/><path d="M1113,263.5 Q1208,210.5 1304,263.5 L1304,300.5 Q1208,250.5 1113,300.5Z"/><path d="M1330,95H1382L1420,167L1462,95H1513L1457,200L1513,300H1462L1420,232L1382,300H1330L1383,200Z"/></g><g transform="translate(0,831) scale(0.25)"><rect x="292" y="680" width="231" height="128" fill="#f2000c"/><rect x="550" y="680" width="230" height="128" fill="#cf0512"/><rect x="804" y="680" width="235" height="128" fill="#a40a12"/><g fill="none" stroke="#fff" stroke-width="16" stroke-linejoin="miter"><path d="M367,780V716H432Q449,716 449,732Q449,748 432,748H367M422,748L454,780"/><path d="M614,716H716M665,716V780"/><path d="M884,708V772H972"/></g></g><rect x="0" y="0" width="1572" height="3.6" fill="#a4acb0"/><rect x="0" y="0" width="3.6" height="1107" fill="#a4acb0"/><rect x="1566.5" y="0" width="5.5" height="1107" fill="#ececec"/><rect x="1568.3" y="0" width="3.7" height="1107" fill="#a9a9a9"/><path d="M0,1099.8L1572,1101.4V1107H0Z" fill="#ececec"/><rect x="0" y="0" width="1572" height="2.1" fill="#0c0c0c"/><rect x="0" y="0" width="2.1" height="1107" fill="#0c0c0c"/><rect x="1569.9" y="0" width="2.1" height="1107" fill="#0c0c0c"/><path d="M0,1102.2L1572,1104.1V1107H0Z" fill="#0c0c0c"/></svg>
</body></html>
